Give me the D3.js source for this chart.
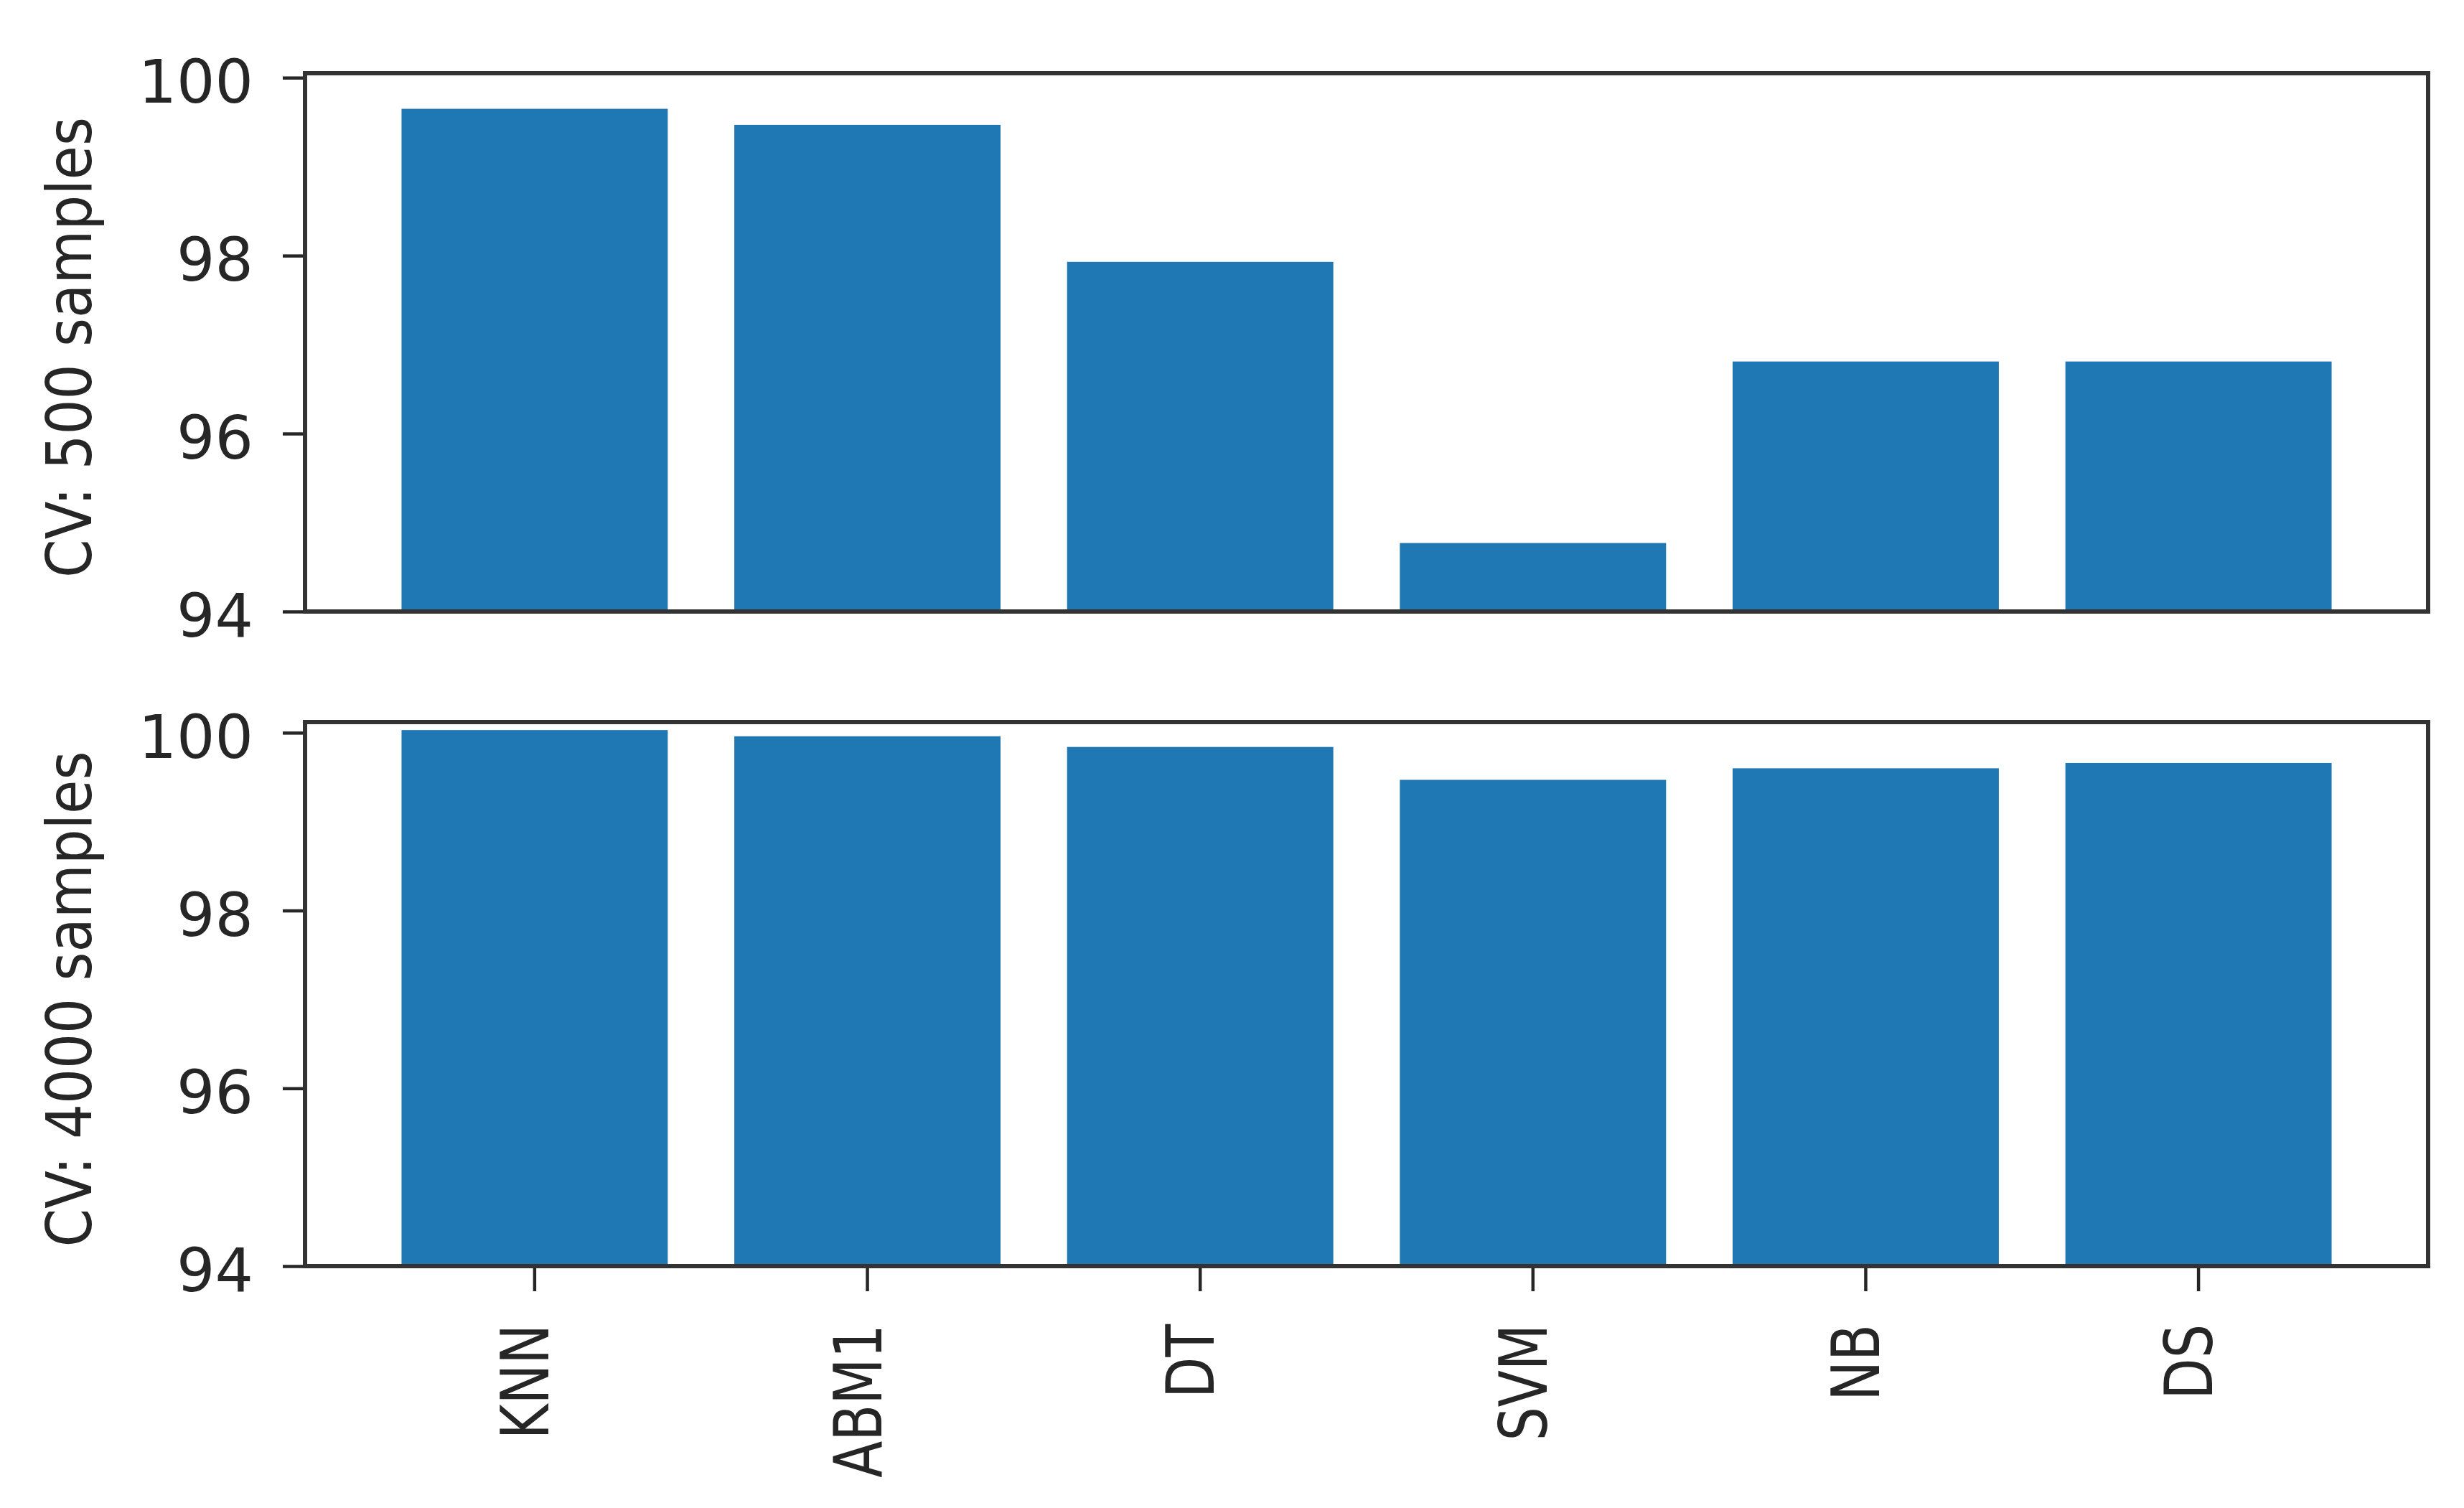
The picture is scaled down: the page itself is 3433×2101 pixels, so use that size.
<!DOCTYPE html>
<html>
<head>
<meta charset="utf-8">
<script src="https://cdn.jsdelivr.net/npm/d3@7"></script>
<style>
  body { margin: 0; background: #fff; }
  text { font-family: "DejaVu Sans", sans-serif; fill: #262626; }
</style>
</head>
<body>
<script>
// classifiers and cross-validation accuracy (%)
var models = ["KNN", "ABM1", "DT", "SVM", "NB", "DS"];
var cv500 = [99.65, 99.47, 97.93, 94.77, 96.81, 96.81];
var cv4000 = [100.03, 99.96, 99.84, 99.47, 99.60, 99.66];
var yTicks = [94, 96, 98, 100];
var yLabels = ["CV: 500 samples", "CV: 4000 samples"];

var width = 3433, height = 2101;
var left = 425, right = 3383;

var svg = d3.select("body").append("svg")
    .attr("width", width)
    .attr("height", height)
    .style("background", "white");

var x_scale = d3.scaleBand()
    .domain(models)
    .range([left, right])
    .paddingInner(0.2)
    .paddingOuter(0.29);

var panels = [
  { values: cv500, top: 102, bottom: 852, ymax: 100.05, label: yLabels[0], showX: false },
  { values: cv4000, top: 1006, bottom: 1764, ymax: 100.12, label: yLabels[1], showX: true }
];

panels.forEach(function(p) {
  var y_scale = d3.scaleLinear()
      .domain([94, p.ymax])
      .range([p.bottom, p.top]);

  var g = svg.append("g");

  g.selectAll("rect.bar").data(p.values).enter().append("rect")
      .attr("class", "bar")
      .attr("x", function(d, i) { return x_scale(models[i]); })
      .attr("width", x_scale.bandwidth())
      .attr("y", function(d) { return y_scale(d); })
      .attr("height", function(d) { return y_scale(94) - y_scale(d); })
      .attr("fill", "#1f77b4");

  // y axis
  var yAxis = d3.axisLeft(y_scale)
      .tickValues(yTicks)
      .tickFormat(d3.format("d"))
      .tickSize(31)
      .tickPadding(41);
  var ya = g.append("g")
      .attr("transform", "translate(" + left + ",0)")
      .call(yAxis);
  ya.select(".domain").remove();
  ya.selectAll("line").attr("stroke", "#262626").attr("stroke-width", 4.5);
  ya.selectAll("text")
      .attr("font-size", 84)
      .attr("dy", "0.41em")
      .style("font-family", "DejaVu Sans, sans-serif");

  // x axis on bottom panel only
  if (p.showX) {
    var xAxis = d3.axisBottom(x_scale).tickSize(35);
    var xa = g.append("g")
        .attr("transform", "translate(0," + p.bottom + ")")
        .call(xAxis);
    xa.select(".domain").remove();
    xa.selectAll("line").attr("stroke", "#262626").attr("stroke-width", 4.5);
    xa.selectAll("text")
        .attr("y", 0)
        .attr("dy", 0)
        .attr("font-size", 92)
        .attr("text-anchor", "end")
        .attr("transform", "translate(19,81) rotate(-90) scale(0.81,1)")
        .style("font-family", "DejaVu Sans, sans-serif");
  }

  // frame
  g.append("rect")
      .attr("x", left)
      .attr("y", p.top)
      .attr("width", right - left)
      .attr("height", p.bottom - p.top)
      .attr("fill", "none")
      .attr("stroke", "#333")
      .attr("stroke-width", 6);

  // y label
  var cy = (p.top + p.bottom) / 2 + 7;
  g.append("text")
      .attr("transform", "translate(127," + cy + ") rotate(-90) scale(0.875,1)")
      .attr("text-anchor", "middle")
      .attr("font-size", 88)
      .text(p.label);
});
</script>
</body>
</html>
